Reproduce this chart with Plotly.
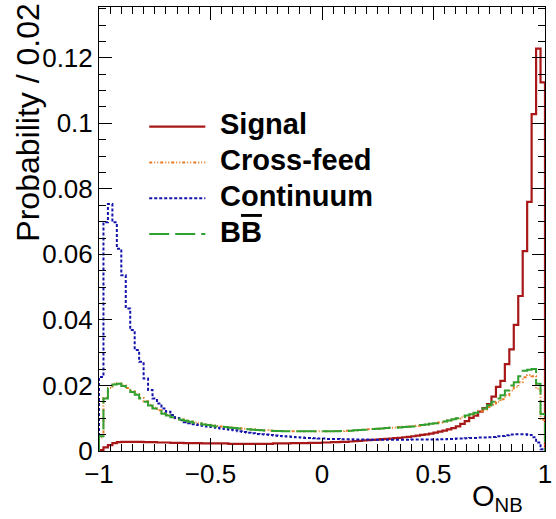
import numpy as np
import plotly.graph_objects as go

# ---- data: probability per bin (bin width 0.02, O_NB from -1 to 1) ----
bin_low = -1.0
bin_width = 0.02

signal = [
    0.0003, 0.0011, 0.0018, 0.0024, 0.0027, 0.0028, 0.0028, 0.0028, 0.0028, 0.0028,
    0.0027, 0.0027, 0.0027, 0.0026, 0.0026, 0.0026, 0.0025, 0.0025, 0.0025, 0.0024,
    0.0024, 0.0024, 0.0024, 0.0023, 0.0023, 0.0023, 0.0023, 0.0023, 0.0023, 0.0022,
    0.0022, 0.0022, 0.0022, 0.0022, 0.0022, 0.0022, 0.0022, 0.0022, 0.0022, 0.0023,
    0.0023, 0.0023, 0.0023, 0.0024, 0.0024, 0.0024, 0.0024, 0.0025, 0.0025, 0.0025,
    0.0026, 0.0026, 0.0027, 0.0027, 0.0028, 0.0028, 0.0029, 0.0030, 0.0031, 0.0032,
    0.0033, 0.0034, 0.0035, 0.0036, 0.0037, 0.0038, 0.0039, 0.0040, 0.0042, 0.0043,
    0.0045, 0.0047, 0.0049, 0.0051, 0.0053, 0.0056, 0.0059, 0.0062, 0.0066, 0.0070,
    0.0075, 0.0083, 0.0091, 0.0101, 0.0108, 0.0120, 0.0131, 0.0143, 0.0166, 0.0196,
    0.0214, 0.0265, 0.0310, 0.0385, 0.0473, 0.0610, 0.0760, 0.1028, 0.1228, 0.1125,
]

cross_feed = [
    0.0042, 0.0162, 0.0192, 0.0205, 0.0206, 0.0200, 0.0192, 0.0182, 0.0173, 0.0162,
    0.0152, 0.0141, 0.0132, 0.0124, 0.0116, 0.0110, 0.0104, 0.0100, 0.0096, 0.0093,
    0.0090, 0.0087, 0.0085, 0.0082, 0.0080, 0.0078, 0.0076, 0.0075, 0.0073, 0.0072,
    0.0071, 0.0069, 0.0068, 0.0067, 0.0066, 0.0065, 0.0064, 0.0063, 0.0062, 0.0062,
    0.0061, 0.0061, 0.0061, 0.0060, 0.0060, 0.0060, 0.0060, 0.0060, 0.0060, 0.0060,
    0.0060, 0.0060, 0.0060, 0.0061, 0.0061, 0.0062, 0.0062, 0.0063, 0.0064, 0.0065,
    0.0066, 0.0067, 0.0068, 0.0069, 0.0070, 0.0071, 0.0072, 0.0073, 0.0074, 0.0075,
    0.0076, 0.0077, 0.0079, 0.0081, 0.0083, 0.0085, 0.0087, 0.0090, 0.0093, 0.0096,
    0.0099, 0.0103, 0.0107, 0.0111, 0.0116, 0.0121, 0.0127, 0.0134, 0.0141, 0.0150,
    0.0158, 0.0170, 0.0185, 0.0195, 0.0210, 0.0225, 0.0232, 0.0228, 0.0190, 0.0095,
]

continuum = [
    0.0226, 0.0698, 0.0754, 0.0698, 0.0617, 0.0536, 0.0435, 0.0369, 0.0308, 0.0272,
    0.0221, 0.0186, 0.0160, 0.0145, 0.0130, 0.0120, 0.0110, 0.0101, 0.0094, 0.0088,
    0.0085, 0.0082, 0.0079, 0.0077, 0.0075, 0.0073, 0.0071, 0.0069, 0.0067, 0.0065,
    0.0063, 0.0060, 0.0058, 0.0056, 0.0054, 0.0052, 0.0051, 0.0050, 0.0049, 0.0047,
    0.0046, 0.0045, 0.0044, 0.0043, 0.0042, 0.0041, 0.0040, 0.0040, 0.0039, 0.0038,
    0.0038, 0.0037, 0.0037, 0.0037, 0.0036, 0.0036, 0.0036, 0.0035, 0.0035, 0.0035,
    0.0035, 0.0034, 0.0034, 0.0034, 0.0034, 0.0034, 0.0034, 0.0034, 0.0034, 0.0034,
    0.0035, 0.0035, 0.0035, 0.0035, 0.0035, 0.0035, 0.0036, 0.0036, 0.0037, 0.0037,
    0.0038, 0.0038, 0.0039, 0.0040, 0.0040, 0.0041, 0.0041, 0.0042, 0.0043, 0.0045,
    0.0046, 0.0048, 0.0050, 0.0051, 0.0051, 0.0051, 0.0049, 0.0042, 0.0026, 0.0005,
]

bbbar = [
    0.0045, 0.0160, 0.0190, 0.0203, 0.0205, 0.0198, 0.0190, 0.0180, 0.0172, 0.0160,
    0.0150, 0.0139, 0.0130, 0.0122, 0.0114, 0.0108, 0.0103, 0.0099, 0.0095, 0.0092,
    0.0089, 0.0086, 0.0084, 0.0081, 0.0079, 0.0077, 0.0075, 0.0074, 0.0073, 0.0071,
    0.0070, 0.0069, 0.0067, 0.0066, 0.0065, 0.0064, 0.0063, 0.0062, 0.0062, 0.0061,
    0.0061, 0.0060, 0.0060, 0.0060, 0.0060, 0.0060, 0.0060, 0.0060, 0.0060, 0.0060,
    0.0060, 0.0060, 0.0060, 0.0060, 0.0061, 0.0061, 0.0062, 0.0063, 0.0064, 0.0065,
    0.0066, 0.0067, 0.0068, 0.0069, 0.0070, 0.0071, 0.0071, 0.0072, 0.0073, 0.0074,
    0.0075, 0.0077, 0.0079, 0.0081, 0.0083, 0.0085, 0.0087, 0.0090, 0.0093, 0.0097,
    0.0100, 0.0104, 0.0108, 0.0112, 0.0117, 0.0123, 0.0130, 0.0140, 0.0150, 0.0160,
    0.0170, 0.0185, 0.0200, 0.0210, 0.0228, 0.0245, 0.0248, 0.0250, 0.0205, 0.0113,
]

series_names = ["Signal", "Cross-feed", "Continuum",
                "B<span style='text-decoration:overline'>B</span>"]
x_tick_vals = [-1, -0.5, 0, 0.5, 1]
x_tick_text = ["\u22121", "\u22120.5", "0", "0.5", "1"]
y_tick_vals = [0, 0.02, 0.04, 0.06, 0.08, 0.1, 0.12]
y_tick_text = ["0", "0.02", "0.04", "0.06", "0.08", "0.1", "0.12"]

# ---- build step outlines (ROOT-like histogram) ----
n_bins = len(signal)
edges = bin_low + bin_width * np.arange(n_bins + 1)


def step_xy(vals):
    xs = [edges[0]] + list(edges[:-1]) + [edges[-1]]
    ys = [0.0] + list(vals) + [0.0]
    return xs, ys


FONT = "Liberation Sans, Arial, Helvetica, sans-serif"

styles = [
    dict(color="#a81818", width=2.2, dash="solid"),
    dict(color="#e67a22", width=2, dash="3px,2px,1px,2px,1px,2px"),
    dict(color="#1414aa", width=2, dash="3px,2px"),
    dict(color="#30a030", width=2, dash="20px,6px"),
]

fig = go.Figure()
for name, vals, st in zip(series_names, [signal, cross_feed, continuum, bbbar], styles):
    xs, ys = step_xy(vals)
    fig.add_trace(go.Scatter(
        x=xs, y=ys, mode="lines", name=name, line_shape="hv",
        line=dict(color=st["color"], width=st["width"], dash=st["dash"]),
        hoverinfo="skip", showlegend=False,
    ))

# ---- ROOT-style legend box (samples + labels, in paper coordinates) ----
leg_x0, leg_x1, leg_tx = 0.1126, 0.2384, 0.2671
leg_y_top, leg_dy = 0.7304, 0.0806
shapes = []
annotations = []
for i, (name, st) in enumerate(zip(series_names, styles)):
    yy = leg_y_top - i * leg_dy
    shapes.append(dict(type="line", xref="paper", yref="paper",
                       x0=leg_x0, x1=leg_x1, y0=yy, y1=yy,
                       line=dict(color=st["color"], width=st["width"], dash=st["dash"])))
    annotations.append(dict(text="<b>%s</b>" % name, xref="paper", yref="paper",
                            x=leg_tx, y=yy + 0.005, xanchor="left", yanchor="middle",
                            showarrow=False,
                            font=dict(family=FONT, size=29, color="black")))

annotations += [
    dict(text="Probability / 0.02", textangle=-90, xref="paper", yref="paper",
         x=-0.160, y=1.0, xanchor="center", yanchor="top", yshift=5,
         showarrow=False, font=dict(family=FONT, size=32, color="black")),
    dict(text="O<sub>NB</sub>", xref="paper", yref="paper",
         x=0.956, y=0.0, xanchor="right", yanchor="top", yshift=-27,
         showarrow=False, font=dict(family=FONT, size=29, color="black")),
]

axis_common = dict(
    showline=True, linecolor="black", linewidth=1, mirror="allticks",
    ticks="inside", ticklen=13, tickcolor="black", tickwidth=1,
    showgrid=False, zeroline=False, ticklabeloverflow="allow",
    tickfont=dict(family=FONT, size=26, color="black"),
)

fig.update_layout(
    width=556, height=519,
    margin=dict(l=99, r=4, t=7, b=68),
    paper_bgcolor="white", plot_bgcolor="white",
    showlegend=False,
    shapes=shapes,
    annotations=annotations,
    xaxis=dict(
        range=[-1, 1], tickvals=x_tick_vals, ticktext=x_tick_text,
        minor=dict(dtick=0.05, tick0=-1, ticklen=7, ticks="inside",
                   tickcolor="black", tickwidth=1, showgrid=False),
        **axis_common,
    ),
    yaxis=dict(
        range=[0, 0.1355], tickvals=y_tick_vals, ticktext=y_tick_text,
        minor=dict(dtick=0.005, tick0=0, ticklen=7, ticks="inside",
                   tickcolor="black", tickwidth=1, showgrid=False),
        **axis_common,
    ),
)

fig.write_html("out.html",
               config={"displayModeBar": False},
               post_script="document.body.style.margin='0px';"
                           "document.body.style.overflow='hidden';")
